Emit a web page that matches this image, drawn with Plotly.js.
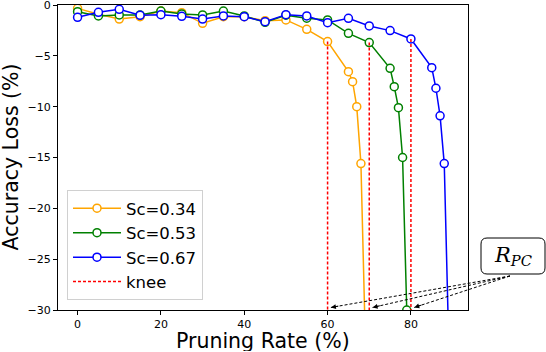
<!DOCTYPE html>
<html>
<head>
<meta charset="utf-8">
<script src="https://cdn.plot.ly/plotly-3.0.1.min.js"></script>
<style>
  html, body { margin: 0; padding: 0; background: #fff; }
  #chart { width: 546px; height: 352px; }
</style>
</head>
<body>
<div id="chart"></div>
<script>
// pruning rate (%) vs accuracy loss (%) for three Sc values
const orangeX = [0, 5, 10, 15, 20, 25, 30, 35, 40, 45, 50, 55, 60, 65, 66, 67, 68, 69];
const orangeY = [-0.33, -0.9, -1.38, -1.15, -0.59, -0.75, -1.8, -1.15, -1.15, -1.54, -1.47, -2.39, -3.6, -6.56, -7.54, -10.0, -15.6, -32];

const greenX = [0, 5, 10, 15, 20, 25, 30, 35, 40, 45, 50, 55, 60, 65, 70, 75, 76, 77, 78, 79];
const greenY = [-0.66, -1.08, -0.98, -0.98, -0.59, -0.88, -0.98, -0.59, -1.08, -1.7, -1.0, -1.3, -1.47, -2.79, -3.7, -6.23, -8.03, -10.1, -15.0, -30];

const blueX = [0, 5, 10, 15, 20, 25, 30, 35, 40, 45, 50, 55, 60, 65, 70, 75, 80, 85, 86, 87, 88, 89];
const blueY = [-1.21, -0.72, -0.42, -1.01, -0.95, -1.11, -1.38, -1.08, -1.15, -1.64, -0.95, -1.08, -1.74, -1.31, -2.06, -2.52, -3.34, -6.16, -8.19, -10.9, -15.6, -32];

const kneeX = [60, 70, 80];
const kneeY = [-3.6, -3.7, -3.34];

const names = ["Sc=0.34", "Sc=0.53", "Sc=0.67"];
const xTitle = "Pruning Rate (%)";
const yTitle = "Accuracy Loss (%)";
const xRange = [-4.7, 93.7];
const yRange = [-30, 0];

const W = 546, H = 352;
const M = {l: 58, r: 78, t: 5, b: 42};
const pw = W - M.l - M.r, ph = H - M.t - M.b;

function series(x, y, name, color) {
  return {
    x: x, y: y, name: name, type: "scatter", mode: "lines+markers",
    line: {color: color, width: 1.5},
    marker: {symbol: "circle", size: 8, color: "white", line: {color: color, width: 1.5}}
  };
}

// knee lines: one trace, broken with nulls
const kx = [], ky = [];
kneeX.forEach((x, i) => { kx.push(x, x, null); ky.push(kneeY[i], yRange[0], null); });

const traces = [
  series(orangeX, orangeY, names[0], "orange"),
  series(greenX, greenY, names[1], "green"),
  series(blueX, blueY, names[2], "blue"),
  {x: kx, y: ky, name: "knee", type: "scatter", mode: "lines",
   line: {color: "red", width: 1.5, dash: "3px,2px"}}
];

// R_PC callout: rounded box in paper coords, dashed arrows to the knees on the x axis
const px2paperX = p => (p - M.l) / pw;
const py2paperY = p => (H - M.b - p) / ph;
const dataToPx = x => M.l + (x - xRange[0]) / (xRange[1] - xRange[0]) * pw;

const bx0 = px2paperX(481), bx1 = px2paperX(545), by0 = py2paperY(274), by1 = py2paperY(238);
const rx = 6 / pw, ry = 6 / ph;
const boxPath = `M ${bx0 + rx},${by0} L ${bx1 - rx},${by0} Q ${bx1},${by0} ${bx1},${by0 + ry} ` +
  `L ${bx1},${by1 - ry} Q ${bx1},${by1} ${bx1 - rx},${by1} L ${bx0 + rx},${by1} ` +
  `Q ${bx0},${by1} ${bx0},${by1 - ry} L ${bx0},${by0 + ry} Q ${bx0},${by0} ${bx0 + rx},${by0} Z`;

const startPx = [510, 276];
const shapes = [{type: "path", xref: "paper", yref: "paper", path: boxPath,
  line: {color: "black", width: 1}, fillcolor: "white", layer: "above"}];
const annotations = [
  {xref: "paper", yref: "paper", x: (bx0 + bx1) / 2, y: (by0 + by1) / 2,
   xanchor: "center", yanchor: "middle",
   text: "<i>R</i><sub><i>PC</i></sub>", showarrow: false,
   font: {family: "DejaVu Serif", size: 21, color: "black"}},
  // axis titles placed by hand so they sit where the original has them
  {xref: "paper", yref: "paper", x: px2paperX(263), y: py2paperY(341),
   xanchor: "center", yanchor: "middle", text: xTitle, showarrow: false,
   height: 20, font: {size: 20.5}},
  {xref: "paper", yref: "paper", x: px2paperX(10.5), y: py2paperY(157),
   xanchor: "center", yanchor: "middle", text: yTitle, showarrow: false,
   textangle: -90, font: {size: 20.5}}
];

kneeX.forEach(k => {
  const tipX = k + 0.8, tipY = yRange[0] + 0.25;
  const tipPx = [dataToPx(tipX), M.t + (yRange[1] - tipY) / (yRange[1] - yRange[0]) * ph];
  shapes.push({type: "line", xref: "paper", yref: "paper",
    x0: px2paperX(startPx[0]), y0: py2paperY(startPx[1]),
    x1: px2paperX(tipPx[0]), y1: py2paperY(tipPx[1]),
    line: {color: "black", width: 1, dash: "3px,2px"}});
  const dx = startPx[0] - tipPx[0], dy = startPx[1] - tipPx[1];
  const len = Math.hypot(dx, dy);
  annotations.push({x: tipX, y: tipY, xref: "x", yref: "y", text: "", showarrow: true,
    arrowhead: 2, arrowsize: 1, arrowwidth: 1, arrowcolor: "black",
    ax: 9 * dx / len, ay: 9 * dy / len});
});

const layout = {
  width: W, height: H,
  margin: M,
  paper_bgcolor: "white", plot_bgcolor: "white",
  font: {family: "DejaVu Sans", color: "black"},
  showlegend: true,
  legend: {
    x: px2paperX(67), y: py2paperY(300), xanchor: "left", yanchor: "bottom",
    bgcolor: "rgba(255,255,255,0.8)", bordercolor: "#d0d0d0", borderwidth: 1,
    font: {size: 16.5, family: "DejaVu Sans"}, tracegroupgap: 0, itemwidth: 48
  },
  xaxis: {
    range: xRange, tickvals: [0, 20, 40, 60, 80],
    showgrid: false, zeroline: false, showline: true, mirror: true,
    linecolor: "black", linewidth: 1, ticks: "outside", ticklen: 4, tickcolor: "black",
    tickfont: {size: 11}, ticklabeloverflow: "allow"
  },
  yaxis: {
    range: yRange, tickvals: [0, -5, -10, -15, -20, -25, -30],
    showgrid: false, zeroline: false, showline: true, mirror: true,
    linecolor: "black", linewidth: 1, ticks: "outside", ticklen: 4, tickcolor: "black",
    tickfont: {size: 11}, ticklabeloverflow: "allow"
  },
  shapes: shapes,
  annotations: annotations
};

Plotly.newPlot("chart", traces, layout, {displayModeBar: false, staticPlot: true});
</script>
</body>
</html>
